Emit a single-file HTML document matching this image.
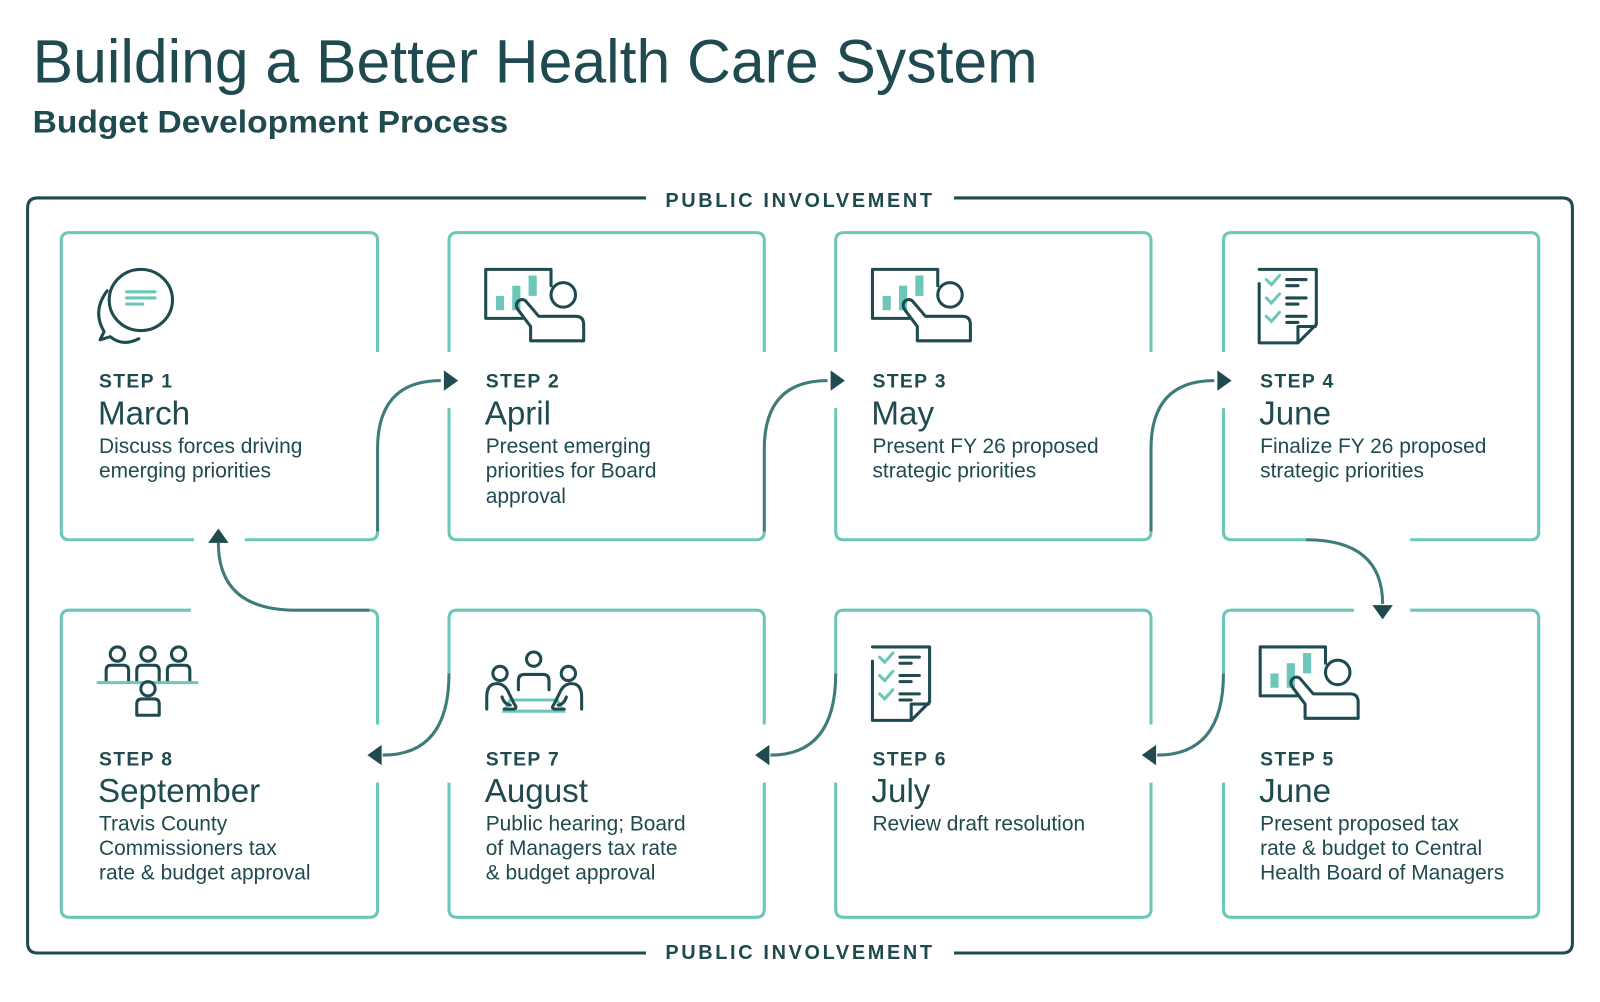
<!DOCTYPE html>
<html><head><meta charset="utf-8"><style>
html,body{margin:0;padding:0;background:#fff;}
svg{display:block;}
text{font-family:"Liberation Sans",sans-serif;fill:#1f4a4f;}
.st{font-weight:bold;font-size:19px;letter-spacing:1.3px;}
.mo{font-size:32.5px;font-weight:300;}
.de{font-size:20.5px;}
.pi{font-weight:bold;font-size:19.5px;letter-spacing:2.6px;}
.bx{fill:none;stroke:#6cc7b8;stroke-width:3;}
.cn{fill:none;stroke:#3e7c7a;stroke-width:3;}
.ic{fill:none;stroke:#1f4a4f;stroke-width:3;stroke-linejoin:round;stroke-linecap:round;}
.it{fill:none;stroke:#6cc7b8;stroke-width:3;stroke-linecap:round;}
.ar{fill:#1f4a4f;}
</style></head><body>
<svg width="1600" height="1002" viewBox="0 0 1568 982" xmlns="http://www.w3.org/2000/svg">
<defs>
<g id="pres">
 <path class="ic" d="M0,0 H64 M0,0 V48 H36 M64,0 V16"/>
 <rect x="10" y="26" width="8" height="14" fill="#6cc7b8"/>
 <rect x="26" y="16" width="8" height="24" fill="#6cc7b8"/>
 <rect x="42" y="6" width="8" height="20" fill="#6cc7b8"/>
 <circle class="ic" cx="76" cy="25" r="12"/>
 <path class="ic" d="M44,70 V56 L32,40 C26,32 36,26 40,32 L52,46 H88 Q96,46 96,54 V70 Z"/>
</g>
<g id="check">
 <path class="ic" d="M0,0 H56 V54 L38,72 H0 V14"/>
 <path class="ic" d="M38,72 V56 H55"/>
 <path class="it" d="M7,10 l5,5 l8,-9 M7,28 l5,5 l8,-9 M7,46 l5,5 l8,-9"/>
 <path class="ic" d="M27,10 H46 M27,16 H38 M27,28 H46 M27,34 H38 M27,46 H46 M27,52 H38"/>
</g>
</defs>

<text x="32" y="81" font-size="60" textLength="985" lengthAdjust="spacingAndGlyphs">Building a Better Health Care System</text>
<text x="32" y="130" font-size="31" font-weight="bold" textLength="466" lengthAdjust="spacingAndGlyphs">Budget Development Process</text>

<path d="M633,194 H37 Q27,194 27,204 V924 Q27,934 37,934 H633 M935,934 H1531 Q1541,934 1541,924 V204 Q1541,194 1531,194 H935" fill="none" stroke="#1f4a4f" stroke-width="3"/>
<text class="pi" x="784" y="203" text-anchor="middle">PUBLIC INVOLVEMENT</text>
<text class="pi" x="784" y="940" text-anchor="middle">PUBLIC INVOLVEMENT</text>

<path class="bx" d="M370,345 V236 Q370,228 362,228 H68 Q60,228 60,236 V521 Q60,529 68,529 H190 M240,529 H362 Q370,529 370,521"/>
<path class="bx" d="M749,345 V236 Q749,228 741,228 H448 Q440,228 440,236 V345 M440,400 V521 Q440,529 448,529 H741 Q749,529 749,521"/>
<path class="bx" d="M1128,345 V236 Q1128,228 1120,228 H827 Q819,228 819,236 V345 M819,400 V521 Q819,529 827,529 H1120 Q1128,529 1128,521"/>
<path class="bx" d="M1508,345 V236 Q1508,228 1500,228 H1207 Q1199,228 1199,236 V345 M1199,400 V521 Q1199,529 1207,529 H1280 M1382,529 H1500 Q1508,529 1508,521 V236"/>

<path class="bx" d="M187,598 H68 Q60,598 60,606 V891 Q60,899 68,899 H362 Q370,899 370,891 V767 M370,710 V606 Q370,598 362,598"/>
<path class="bx" d="M440,660 V606 Q440,598 448,598 H741 Q749,598 749,606 V710 M749,767 V891 Q749,899 741,899 H448 Q440,899 440,891 V767"/>
<path class="bx" d="M819,660 V606 Q819,598 827,598 H1120 Q1128,598 1128,606 V710 M1128,767 V891 Q1128,899 1120,899 H827 Q819,899 819,891 V767"/>
<path class="bx" d="M1199,660 V606 Q1199,598 1207,598 H1327 M1382,598 H1500 Q1508,598 1508,606 V891 Q1508,899 1500,899 H1207 Q1199,899 1199,891 V767"/>

<path class="cn" d="M370,521 V440 Q370,373 432,373"/>
<path class="ar" d="M449,373 L435,363 L435,383 Z"/>
<path class="cn" d="M749,521 V440 Q749,373 811,373"/>
<path class="ar" d="M828,373 L814,363 L814,383 Z"/>
<path class="cn" d="M1128,521 V440 Q1128,373 1190,373"/>
<path class="ar" d="M1207,373 L1193,363 L1193,383 Z"/>
<path class="cn" d="M1280,529 Q1355,529 1355,592"/>
<path class="ar" d="M1355,607 L1345,593 L1365,593 Z"/>
<path class="cn" d="M1199,660 Q1199,740 1134,740"/>
<path class="ar" d="M1119,740 L1133,730 L1133,750 Z"/>
<path class="cn" d="M819,660 Q819,740 755,740"/>
<path class="ar" d="M740,740 L754,730 L754,750 Z"/>
<path class="cn" d="M440,660 Q440,740 375,740"/>
<path class="ar" d="M360,740 L374,730 L374,750 Z"/>
<path class="cn" d="M362,598 H290 Q214,598 214,532"/>
<path class="ar" d="M214,518 L204,532 L224,532 Z"/>

<g>
 <ellipse class="ic" cx="138" cy="294" rx="31" ry="30"/>
 <path class="it" d="M124,286 H152 M124,292 H152 M124,298 H140"/>
 <path class="ic" d="M105,285 Q90,305 102,325 L98,333 L108,330 Q120,340 136,332"/>
</g>
<use href="#pres" x="476" y="264"/>
<use href="#pres" x="855" y="264"/>
<use href="#check" x="1234" y="264"/>
<use href="#pres" x="1235" y="634"/>
<use href="#check" x="855" y="634"/>
<g>
 <circle class="ic" cx="490" cy="660" r="7"/><circle class="ic" cx="523" cy="646" r="7"/><circle class="ic" cx="557" cy="660" r="7"/>
 <path class="ic" d="M508,676 V667 Q508,661 514,661 H532 Q538,661 538,667 V676"/>
 <path class="it" d="M494,697 L500,686 H546 L552,697 Z"/>
 <path class="ic" d="M477,695 V683 Q477,670 487,670 Q495,670 499,680 L504,690 Q508,695 502,695 H494 M492,683 Q494,690 500,691"/>
 <path class="ic" d="M570,695 V683 Q570,670 560,670 Q552,670 548,680 L543,690 Q539,695 545,695 H553 M555,683 Q553,690 547,691"/>
</g>
<g>
 <circle class="ic" cx="115" cy="641" r="7"/><circle class="ic" cx="145" cy="641" r="7"/><circle class="ic" cx="175" cy="641" r="7"/>
 <path class="ic" d="M104,668 V657 Q104,652 109,652 H121 Q126,652 126,657 V668 M134,668 V657 Q134,652 139,652 H151 Q156,652 156,657 V668 M164,668 V657 Q164,652 169,652 H181 Q186,652 186,657 V668"/>
 <path class="it" d="M96,669 H193"/>
 <circle class="ic" cx="145" cy="675" r="7"/>
 <path class="ic" d="M134,701 V690 Q134,685 139,685 H151 Q156,685 156,690 V701 Z"/>
</g>

<g>
<text class="st" x="97" y="380">STEP 1</text><text class="mo" x="96" y="416">March</text>
<text class="de" x="97" y="444">Discuss forces driving</text><text class="de" x="97" y="468">emerging priorities</text>

<text class="st" x="476" y="380">STEP 2</text><text class="mo" x="475" y="416">April</text>
<text class="de" x="476" y="444">Present emerging</text><text class="de" x="476" y="468">priorities for Board</text><text class="de" x="476" y="493">approval</text>

<text class="st" x="855" y="380">STEP 3</text><text class="mo" x="854" y="416">May</text>
<text class="de" x="855" y="444">Present FY 26 proposed</text><text class="de" x="855" y="468">strategic priorities</text>

<text class="st" x="1235" y="380">STEP 4</text><text class="mo" x="1234" y="416">June</text>
<text class="de" x="1235" y="444">Finalize FY 26 proposed</text><text class="de" x="1235" y="468">strategic priorities</text>
</g>
<g>
<text class="st" x="97" y="750">STEP 8</text><text class="mo" x="96" y="786">September</text>
<text class="de" x="97" y="814">Travis County</text><text class="de" x="97" y="838">Commissioners tax</text><text class="de" x="97" y="862">rate &amp; budget approval</text>

<text class="st" x="476" y="750">STEP 7</text><text class="mo" x="475" y="786">August</text>
<text class="de" x="476" y="814">Public hearing; Board</text><text class="de" x="476" y="838">of Managers tax rate</text><text class="de" x="476" y="862">&amp; budget approval</text>

<text class="st" x="855" y="750">STEP 6</text><text class="mo" x="854" y="786">July</text>
<text class="de" x="855" y="814">Review draft resolution</text>

<text class="st" x="1235" y="750">STEP 5</text><text class="mo" x="1234" y="786">June</text>
<text class="de" x="1235" y="814">Present proposed tax</text><text class="de" x="1235" y="838">rate &amp; budget to Central</text><text class="de" x="1235" y="862">Health Board of Managers</text>
</g>
</svg>
</body></html>
